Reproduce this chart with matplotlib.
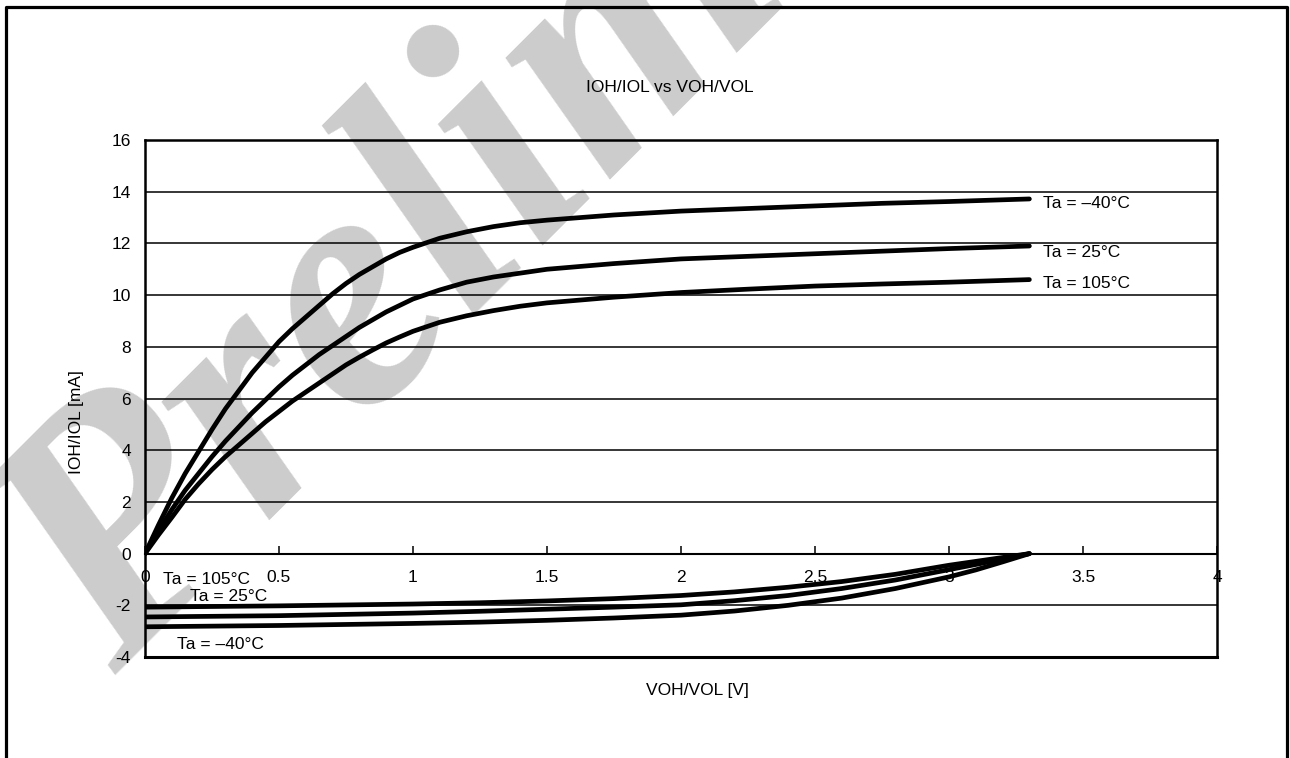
import matplotlib

matplotlib.use("Agg")

import matplotlib.pyplot as plt
from matplotlib.lines import Line2D

# source-side sweep (IOH), V vs mA
v_high = [0, 0.05, 0.1, 0.15, 0.2, 0.25, 0.3, 0.35, 0.4, 0.45, 0.5, 0.55, 0.6, 0.65, 0.7,
          0.75, 0.8, 0.85, 0.9, 0.95, 1.0, 1.1, 1.2, 1.3, 1.4, 1.5, 1.75, 2.0, 2.25, 2.5,
          2.75, 3.0, 3.3]
ioh_m40 = [0, 1.1, 2.15, 3.1, 3.95, 4.8, 5.6, 6.3, 7.0, 7.6, 8.2, 8.7, 9.15, 9.6, 10.05,
           10.45, 10.8, 11.1, 11.4, 11.65, 11.85, 12.2, 12.45, 12.65, 12.8, 12.9, 13.1, 13.25,
           13.35, 13.45, 13.55, 13.62, 13.72]
ioh_25 = [0, 0.87, 1.7, 2.45, 3.1, 3.75, 4.35, 4.9, 5.45, 5.95, 6.45, 6.9, 7.3, 7.7, 8.05,
          8.4, 8.75, 9.05, 9.35, 9.6, 9.85, 10.2, 10.5, 10.7, 10.85, 11.0, 11.22, 11.4,
          11.5, 11.6, 11.7, 11.8, 11.9]
ioh_105 = [0, 0.72, 1.4, 2.1, 2.7, 3.25, 3.75, 4.2, 4.65, 5.1, 5.5, 5.9, 6.25, 6.6, 6.95,
           7.3, 7.6, 7.88, 8.15, 8.38, 8.6, 8.95, 9.2, 9.4, 9.57, 9.7, 9.92, 10.1,
           10.23, 10.35, 10.43, 10.5, 10.6]

# sink-side sweep (IOL), drawn as negative current
v_low = [0, 0.5, 1.0, 1.25, 1.5, 1.75, 2.0, 2.2, 2.4, 2.6, 2.8, 3.0, 3.1, 3.2, 3.3]
iol_105 = [-2.07, -2.02, -1.95, -1.9, -1.83, -1.74, -1.62, -1.48, -1.3, -1.08, -0.8, -0.45,
           -0.3, -0.15, 0]
iol_25 = [-2.45, -2.4, -2.3, -2.23, -2.15, -2.07, -1.98, -1.82, -1.62, -1.35, -1.02, -0.62,
          -0.42, -0.21, 0]
iol_m40 = [-2.83, -2.78, -2.7, -2.65, -2.58, -2.49, -2.38, -2.22, -2.0, -1.72, -1.35, -0.9,
           -0.63, -0.32, 0]

x_ticks = [0, 0.5, 1, 1.5, 2, 2.5, 3, 3.5, 4]
x_labels = ["0", "0.5", "1", "1.5", "2", "2.5", "3", "3.5", "4"]
y_ticks = [-4, -2, 0, 2, 4, 6, 8, 10, 12, 14, 16]

plt.rcParams["font.family"] = ["Liberation Sans", "DejaVu Sans"]
plt.rcParams["axes.unicode_minus"] = False

fig = plt.figure(figsize=(12.9, 7.58), dpi=100)

# watermark, kept under the axes
fig.text(115 / 1290, 1 - 675 / 758, "Preliminary", fontsize=250, family="Liberation Serif",
         style="italic", weight="bold", color="#cccccc", rotation=45,
         rotation_mode="anchor", ha="left", va="baseline", zorder=-1)

# outer frame, open at the bottom
fig.add_artist(Line2D([0.0047, 0.0047, 0.9977, 0.9977], [-0.1, 0.9905, 0.9905, -0.1],
                      transform=fig.transFigure, color="black", lw=2.3))

ax = fig.add_axes([0.1124, 0.1332, 0.8310, 0.6821])
ax.patch.set_alpha(0)

for y in (ioh_m40, ioh_25, ioh_105):
    ax.plot(v_high, y, color="black", lw=3.4, solid_capstyle="round", zorder=3)
for y in (iol_105, iol_25, iol_m40):
    ax.plot(v_low, y, color="black", lw=3.4, solid_capstyle="round", zorder=3)

ax.set_xlim(0, 4)
ax.set_ylim(-4, 16)
ax.set_xticks(x_ticks)
ax.set_xticklabels(x_labels)
ax.set_yticks(y_ticks)
ax.yaxis.grid(True, color="black", lw=1.1)
ax.set_axisbelow(True)

ax.spines["bottom"].set_position(("data", 0))
ax.spines["bottom"].set_linewidth(1.5)
for side in ("left", "right", "top"):
    ax.spines[side].set_linewidth(1.8)
ax.axhline(-4, color="black", lw=2.2, clip_on=False)

ax.tick_params(axis="x", direction="in", length=6, width=1.1, pad=12, labelsize=12.5)
ax.tick_params(axis="y", length=0, pad=10, labelsize=12.5)

lbl = dict(fontsize=12.5, va="center", ha="left", zorder=4)
ax.text(3.351, 13.56, "Ta = \u201340\u00b0C", **lbl)
ax.text(3.351, 11.66, "Ta = 25\u00b0C", **lbl)
ax.text(3.351, 10.46, "Ta = 105\u00b0C", **lbl)
ax.text(0.067, -1.02, "Ta = 105\u00b0C", **lbl)
ax.text(0.168, -1.64, "Ta = 25\u00b0C", **lbl)
ax.text(0.119, -3.5, "Ta = \u201340\u00b0C", **lbl)

fig.text(670 / 1290, 1 - 88 / 758, "IOH/IOL vs VOH/VOL", fontsize=12.5, ha="center", va="center")
fig.text(77 / 1290, 1 - 422 / 758, "IOH/IOL [mA]", fontsize=12.5, rotation=90,
         ha="center", va="center")
fig.text(697 / 1290, 1 - 691 / 758, "VOH/VOL [V]", fontsize=12.5, ha="center", va="center")

fig.savefig("out.png", dpi=100)
